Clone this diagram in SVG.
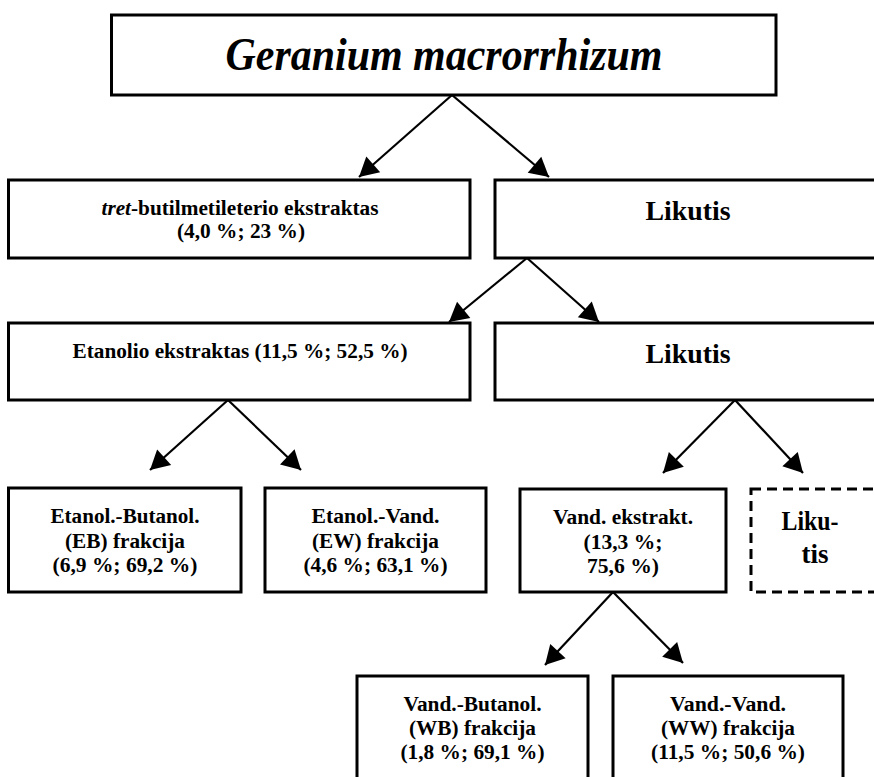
<svg xmlns="http://www.w3.org/2000/svg" width="874" height="777" viewBox="0 0 874 777">
<style>
.box{fill:#fff;stroke:#000;stroke-width:3}
.dash{fill:#fff;stroke:#000;stroke-width:3;stroke-dasharray:10,6}
.t{font-family:"Liberation Serif","Times New Roman",serif;font-weight:700;font-size:20px;text-anchor:middle;fill:#000}
.big{font-size:28px}
.title{font-size:46px;font-style:italic}
.arr{stroke:#000;stroke-width:2.2;fill:none;marker-end:url(#ah)}
</style>
<defs>
<marker id="ah" markerUnits="userSpaceOnUse" markerWidth="24" markerHeight="24" viewBox="0 0 24 24" refX="20" refY="12" orient="auto">
<path d="M1,1.5 L20,12 L1,22.5 Z" fill="#000"/>
</marker>
</defs>
<rect width="874" height="777" fill="#fff"/>
<g id="connectors">
<line class="arr" x1="452" y1="95" x2="359" y2="177"/>
<line class="arr" x1="452" y1="95" x2="549" y2="177"/>
<line class="arr" x1="527" y1="258" x2="449" y2="322"/>
<line class="arr" x1="527" y1="258" x2="599" y2="322"/>
<line class="arr" x1="228" y1="400" x2="150" y2="470"/>
<line class="arr" x1="228" y1="400" x2="301" y2="470"/>
<line class="arr" x1="735" y1="400" x2="663" y2="473"/>
<line class="arr" x1="735" y1="400" x2="803" y2="473"/>
<line class="arr" x1="613" y1="592" x2="545" y2="665"/>
<line class="arr" x1="613" y1="592" x2="683" y2="663"/>
</g>
<g id="n-root">
<rect class="box" x="111.5" y="15" width="664.5" height="80"/>
<text class="t title" x="444" y="70" textLength="437" lengthAdjust="spacingAndGlyphs">Geranium macrorrhizum</text>
</g>
<g id="n-tret">
<rect class="box" x="8.5" y="180" width="461.5" height="78"/>
<text class="t" x="240" y="215" textLength="277" lengthAdjust="spacingAndGlyphs"><tspan font-style="italic">tret</tspan>-butilmetileterio ekstraktas</text>
<text class="t" x="241" y="238" textLength="128" lengthAdjust="spacingAndGlyphs">(4,0 %; 23 %)</text>
</g>
<g id="n-likutis1">
<rect class="box" x="495" y="180" width="400" height="78"/>
<text class="t big" x="688" y="220" textLength="85" lengthAdjust="spacingAndGlyphs">Likutis</text>
</g>
<g id="n-etanolio">
<rect class="box" x="8.5" y="323" width="461.5" height="77"/>
<text class="t" x="240" y="358" textLength="335" lengthAdjust="spacingAndGlyphs">Etanolio ekstraktas (11,5 %; 52,5 %)</text>
</g>
<g id="n-likutis2">
<rect class="box" x="495" y="323" width="400" height="77"/>
<text class="t big" x="688" y="363" textLength="85" lengthAdjust="spacingAndGlyphs">Likutis</text>
</g>
<g id="n-eb">
<rect class="box" x="8.5" y="488" width="232.5" height="104"/>
<text class="t" x="125" y="523" textLength="149" lengthAdjust="spacingAndGlyphs">Etanol.-Butanol.</text>
<text class="t" x="125" y="548" textLength="120" lengthAdjust="spacingAndGlyphs">(EB) frakcija</text>
<text class="t" x="125" y="572" textLength="145" lengthAdjust="spacingAndGlyphs">(6,9 %; 69,2 %)</text>
</g>
<g id="n-ew">
<rect class="box" x="265" y="488" width="221" height="104"/>
<text class="t" x="375.5" y="523" textLength="128" lengthAdjust="spacingAndGlyphs">Etanol.-Vand.</text>
<text class="t" x="375.5" y="548" textLength="127" lengthAdjust="spacingAndGlyphs">(EW) frakcija</text>
<text class="t" x="375.5" y="572" textLength="144" lengthAdjust="spacingAndGlyphs">(4,6 %; 63,1 %)</text>
</g>
<g id="n-vand">
<rect class="box" x="520" y="489" width="206" height="103"/>
<text class="t" x="623" y="524" textLength="140" lengthAdjust="spacingAndGlyphs">Vand. ekstrakt.</text>
<text class="t" x="623" y="549" textLength="79" lengthAdjust="spacingAndGlyphs">(13,3 %;</text>
<text class="t" x="623" y="573" textLength="72" lengthAdjust="spacingAndGlyphs">75,6 %)</text>
</g>
<g id="n-likutis3">
<rect class="dash" x="751" y="489" width="140" height="103"/>
<text class="t big" x="810" y="530" textLength="57" lengthAdjust="spacingAndGlyphs">Liku-</text>
<text class="t big" x="815" y="563" textLength="27" lengthAdjust="spacingAndGlyphs">tis</text>
</g>
<g id="n-wb">
<rect class="box" x="357" y="676" width="231" height="120"/>
<text class="t" x="472.5" y="711" textLength="138" lengthAdjust="spacingAndGlyphs">Vand.-Butanol.</text>
<text class="t" x="472.5" y="735" textLength="127" lengthAdjust="spacingAndGlyphs">(WB) frakcija</text>
<text class="t" x="472.5" y="759" textLength="144" lengthAdjust="spacingAndGlyphs">(1,8 %; 69,1 %)</text>
</g>
<g id="n-ww">
<rect class="box" x="613" y="676" width="230" height="120"/>
<text class="t" x="728" y="711" textLength="116" lengthAdjust="spacingAndGlyphs">Vand.-Vand.</text>
<text class="t" x="728" y="735" textLength="134" lengthAdjust="spacingAndGlyphs">(WW) frakcija</text>
<text class="t" x="728" y="759" textLength="154" lengthAdjust="spacingAndGlyphs">(11,5 %; 50,6 %)</text>
</g>
</svg>
